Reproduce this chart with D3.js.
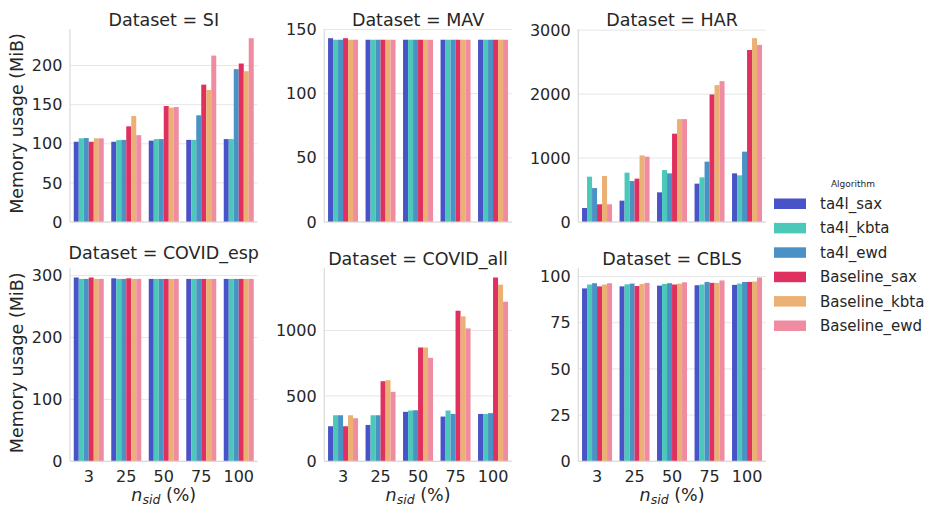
<!DOCTYPE html>
<html>
<head>
<meta charset="utf-8">
<script src="https://cdn.jsdelivr.net/npm/d3@7"></script>
<style>
  body { margin: 0; background: #fff; }
  svg text { font-family: "DejaVu Sans", sans-serif; fill: #262626; }
</style>
</head>
<body>
<svg id="chart" width="933" height="507"></svg>
<script>
const categories = ['3', '25', '50', '75', '100'];
const algorithms = ['ta4l_sax', 'ta4l_kbta', 'ta4l_ewd', 'Baseline_sax', 'Baseline_kbta', 'Baseline_ewd'];
const colors = ['#4853c8', '#4bc8b8', '#4a92c6', '#e0305f', '#ebb073', '#f08ca2'];
const datasets = ['SI', 'MAV', 'HAR', 'COVID_esp', 'COVID_all', 'CBLS'];

// values[category][algorithm]
const siValues = [
  [102.6, 107, 107.3, 102.6, 107, 107],
  [102.6, 104.7, 105, 122.3, 135.5, 111],
  [104, 106, 106, 148.3, 146.2, 147],
  [105, 105, 136.4, 175.6, 168.8, 212.8],
  [106, 106, 195.4, 202.6, 192.8, 235]
];
const mavValues = [
  [143.2, 142, 142, 143.2, 142, 142],
  [142, 142, 142, 142, 142, 142],
  [142, 142, 142, 142, 142, 142],
  [142, 142, 142, 142, 142, 142],
  [142, 142, 142, 142, 142, 142]
];
const harValues = [
  [219, 709, 531, 277, 719, 277],
  [334, 772, 641, 678, 1042, 1022],
  [464, 813, 761, 1381, 1609, 1609],
  [600, 698, 944, 1995, 2141, 2203],
  [761, 730, 1100, 2690, 2875, 2770]
];
const covidEspValues = [
  [296.8, 294.5, 294.5, 296.8, 294.5, 294.5],
  [295.5, 294.5, 294.5, 295.5, 294.5, 294.5],
  [294.5, 294.5, 294.5, 294.5, 294.5, 294.5],
  [294.5, 294.5, 294.5, 294.5, 294.5, 294.5],
  [294.5, 294.5, 294.5, 294.5, 294.5, 294.5]
];
const covidAllValues = [
  [268, 352, 352, 268, 352, 329],
  [278, 352, 352, 612, 620, 531],
  [378, 388, 390, 870, 870, 791],
  [342, 388, 362, 1151, 1108, 1016],
  [362, 362, 368, 1405, 1350, 1220]
];
const cblsValues = [
  [93.6, 95.7, 96.4, 94.7, 95.7, 96.4],
  [94.7, 95.8, 96.2, 94.9, 96, 96.6],
  [95.1, 96, 96.4, 95.7, 96.2, 96.9],
  [95.3, 95.7, 97.1, 96.6, 96.6, 97.9],
  [95.5, 96.2, 97.1, 97.1, 97.3, 99.5]
];
const allValues = [siValues, mavValues, harValues, covidEspValues, covidAllValues, cblsValues];
const yTicks = [
  [0, 50, 100, 150, 200],
  [0, 50, 100, 150],
  [0, 1000, 2000, 3000],
  [0, 100, 200, 300],
  [0, 500, 1000],
  [0, 25, 50, 75, 100]
];

const svg = d3.select('#chart');
const pw = 187.5, ph = 193;
const colX = [70, 324.3, 578.3];
const rowY = [29, 268.3];

const x = d3.scaleBand().domain(categories).range([0, pw])
    .paddingInner(0.2).paddingOuter(0.1);
const xInner = d3.scaleBand().domain(algorithms).range([0, x.bandwidth()]);
const color = d3.scaleOrdinal().domain(algorithms).range(colors);

datasets.forEach((name, i) => {
  const col = i % 3, row = Math.floor(i / 3);
  const vals = allValues[i];
  const maxV = d3.max(vals, d => d3.max(d));
  const y = d3.scaleLinear().domain([0, maxV * 1.05]).range([ph, 0]);
  const g = svg.append('g').attr('transform', `translate(${colX[col]},${rowY[row]})`);

  // grid
  g.selectAll('line.grid').data(yTicks[i]).join('line')
      .attr('class', 'grid')
      .attr('x1', 0).attr('x2', pw)
      .attr('y1', d => y(d)).attr('y2', d => y(d))
      .attr('stroke', '#e6e6e6').attr('stroke-width', 1);

  // bars
  categories.forEach((c, ci) => {
    g.append('g').attr('transform', `translate(${x(c)},0)`)
      .selectAll('rect').data(vals[ci]).join('rect')
        .attr('x', (d, ai) => xInner(algorithms[ai]))
        .attr('y', d => y(d))
        .attr('width', xInner.bandwidth())
        .attr('height', d => ph - y(d))
        .attr('fill', (d, ai) => color(algorithms[ai]));
  });

  // spines
  g.append('line').attr('x1', 0).attr('x2', 0).attr('y1', 0).attr('y2', ph)
      .attr('stroke', '#dadada').attr('stroke-width', 1.2);
  g.append('line').attr('x1', 0).attr('x2', pw).attr('y1', ph).attr('y2', ph)
      .attr('stroke', '#dadada').attr('stroke-width', 1.2);

  // y axis
  const yAxis = d3.axisLeft(y).tickValues(yTicks[i]).tickFormat(d3.format('d'))
      .tickSize(0).tickPadding(7.7);
  const ga = g.append('g').call(yAxis);
  ga.select('.domain').remove();
  ga.selectAll('text').style('font-size', '16px').attr('fill', '#262626');

  // title (lifted a little when wider than the panel)
  const title = g.append('text').attr('x', pw / 2).attr('y', -3.5)
      .attr('text-anchor', 'middle').style('font-size', '17.5px')
      .text(`Dataset = ${name}`);
  if (title.node().getComputedTextLength() > pw) title.attr('y', -9.3);

  if (row === 1) {
    const xAxis = d3.axisBottom(x).tickSize(0).tickPadding(9.3);
    const gx = g.append('g').attr('transform', `translate(0,${ph})`).call(xAxis);
    gx.select('.domain').remove();
    gx.selectAll('text').style('font-size', '16px').attr('fill', '#262626');

    const lab = g.append('text').attr('x', pw / 2).attr('y', 233)
        .attr('text-anchor', 'middle').style('font-size', '17.5px');
    lab.append('tspan').style('font-style', 'italic').text('n');
    lab.append('tspan').attr('dy', 3).style('font-size', '12.5px')
        .style('font-style', 'italic').text('sid');
    lab.append('tspan').attr('dy', -3).text(' (%)');
  }

  if (col === 0) {
    g.append('text')
        .attr('transform', `translate(-47.5,${ph / 2 - 2}) rotate(-90)`)
        .attr('text-anchor', 'middle').style('font-size', '17.5px')
        .text('Memory usage (MiB)');
  }
});

// legend
const legend = svg.append('g').attr('transform', 'translate(774,0)');
legend.append('text').attr('x', 79).attr('y', 187)
    .attr('text-anchor', 'middle').style('font-size', '9px').text('Algorithm');
algorithms.forEach((a, i) => {
  const yy = 198.5 + i * 24.4;
  legend.append('rect').attr('x', 0).attr('y', yy).attr('width', 32).attr('height', 10.5)
      .attr('fill', color(a));
  legend.append('text').attr('x', 46).attr('y', yy + 10.5)
      .style('font-size', '15px').text(a);
});
</script>
</body>
</html>
